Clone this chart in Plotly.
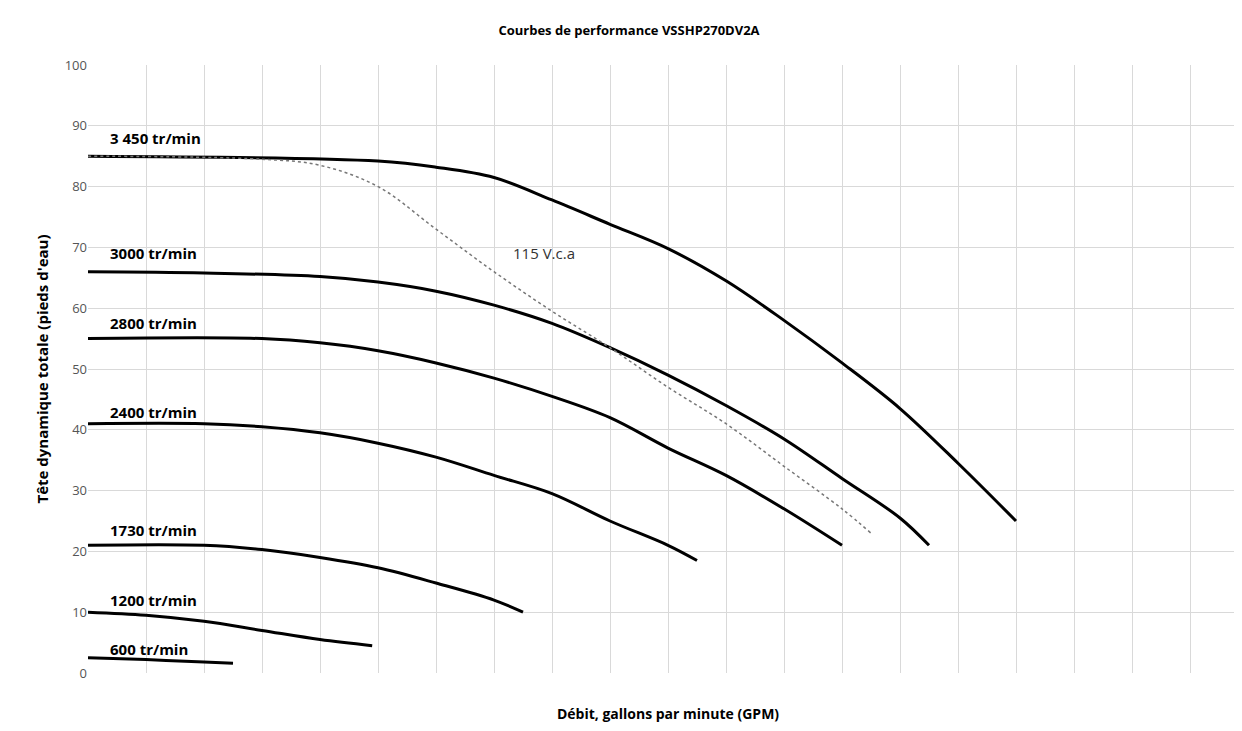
import plotly.graph_objects as go

# x is in grid columns (the chart's gridlines are not tied to the GPM labels)
rpm_labels = ["3 450 tr/min", "3000 tr/min", "2800 tr/min", "2400 tr/min",
              "1730 tr/min", "1200 tr/min", "600 tr/min"]
x_3450 = [0, 5, 6, 7, 8, 9, 10, 11, 12, 13, 14, 15, 16]
y_3450 = [85, 84.2, 83.2, 81.5, 77.8, 73.8, 69.8, 64.5, 58, 51, 43.5, 34.5, 25]
x_3000 = [0, 2, 4, 5, 6, 7, 8, 9, 10, 11, 12, 13, 14, 14.5]
y_3000 = [66, 65.8, 65.2, 64.3, 62.8, 60.5, 57.5, 53.5, 49, 44, 38.5, 32, 25.5, 21]
x_2800 = [0, 3, 4, 5, 6, 7, 8, 9, 10, 11, 12, 13]
y_2800 = [55, 55, 54.3, 53, 51, 48.5, 45.5, 42, 37, 32.5, 27, 21]
x_2400 = [0, 2, 3, 4, 5, 6, 7, 8, 9, 10, 10.5]
y_2400 = [41, 41, 40.5, 39.5, 37.8, 35.5, 32.5, 29.5, 25, 21, 18.5]
x_1730 = [0, 2, 3, 4, 5, 6, 7, 7.5]
y_1730 = [21, 21, 20.3, 19, 17.3, 14.8, 12, 10]
x_1200 = [0, 1, 2, 3, 4, 4.9]
y_1200 = [10, 9.5, 8.5, 7, 5.5, 4.5]
x_600 = [0, 1, 2, 2.5]
y_600 = [2.5, 2.2, 1.8, 1.6]
x_115 = [0, 3, 4, 5, 6, 7, 8, 9, 10, 11, 12, 13, 13.5]
y_115 = [85, 84.5, 83.5, 80, 73, 66, 59.5, 53.5, 47, 41, 34, 27, 23]
label_y = [88, 69, 57.5, 43, 23.5, 12, 4]
gpm_ticks = list(range(0, 201, 10))

curves = [(x_3450, y_3450), (x_3000, y_3000), (x_2800, y_2800), (x_2400, y_2400),
          (x_1730, y_1730), (x_1200, y_1200), (x_600, y_600)]

fig = go.Figure()
for (xs, ys), name in zip(curves, rpm_labels):
    fig.add_trace(go.Scatter(x=xs, y=ys, mode="lines", name=name,
                             line=dict(color="black", width=3, shape="spline")))
fig.add_trace(go.Scatter(x=x_115, y=y_115, mode="lines", name="115 V.c.a",
                         line=dict(color="#777", width=1.5, dash="dot", shape="spline")))

for name, ly in zip(rpm_labels, label_y):
    fig.add_annotation(x=0.35, y=ly, text="<b>" + name + "</b>", showarrow=False,
                       xanchor="left", font=dict(size=15, color="black"))
fig.add_annotation(x=7.3, y=69, text="115 V.c.a", showarrow=False, xanchor="left",
                   font=dict(size=15, color="#333"))
fig.add_annotation(x=-0.1, y=-0.025, xref="x", yref="paper", yanchor="top", xanchor="left",
                   text=" ".join(str(t) for t in gpm_ticks), showarrow=False,
                   font=dict(size=15, color="#555"))

fig.update_layout(
    width=1242, height=731, showlegend=False,
    plot_bgcolor="white", paper_bgcolor="white",
    font=dict(family="Open Sans, Liberation Sans", color="black"),
    title=dict(text="<b>Courbes de performance VSSHP270DV2A</b>", x=0.5, y=0.975,
               font=dict(size=13)),
    margin=dict(l=80, r=2, t=57, b=66),
    xaxis=dict(range=[0, 20], tickvals=[], showgrid=False, zeroline=False, automargin=False,
               minor=dict(dtick=1, showgrid=True, gridcolor="#d9d9d9", ticks=""),
               title=dict(text="<b>Débit, gallons par minute (GPM)</b>", standoff=36,
                          font=dict(size=14))),
    yaxis=dict(range=[0, 100], dtick=10, gridcolor="#d9d9d9", zeroline=False,
               automargin=False, tickfont=dict(size=13, color="#555"),
               title=dict(text="<b>Tête dynamique totale (pieds d'eau)</b>",
                          standoff=12, font=dict(size=15))),
)
fig.write_html("out.html")
